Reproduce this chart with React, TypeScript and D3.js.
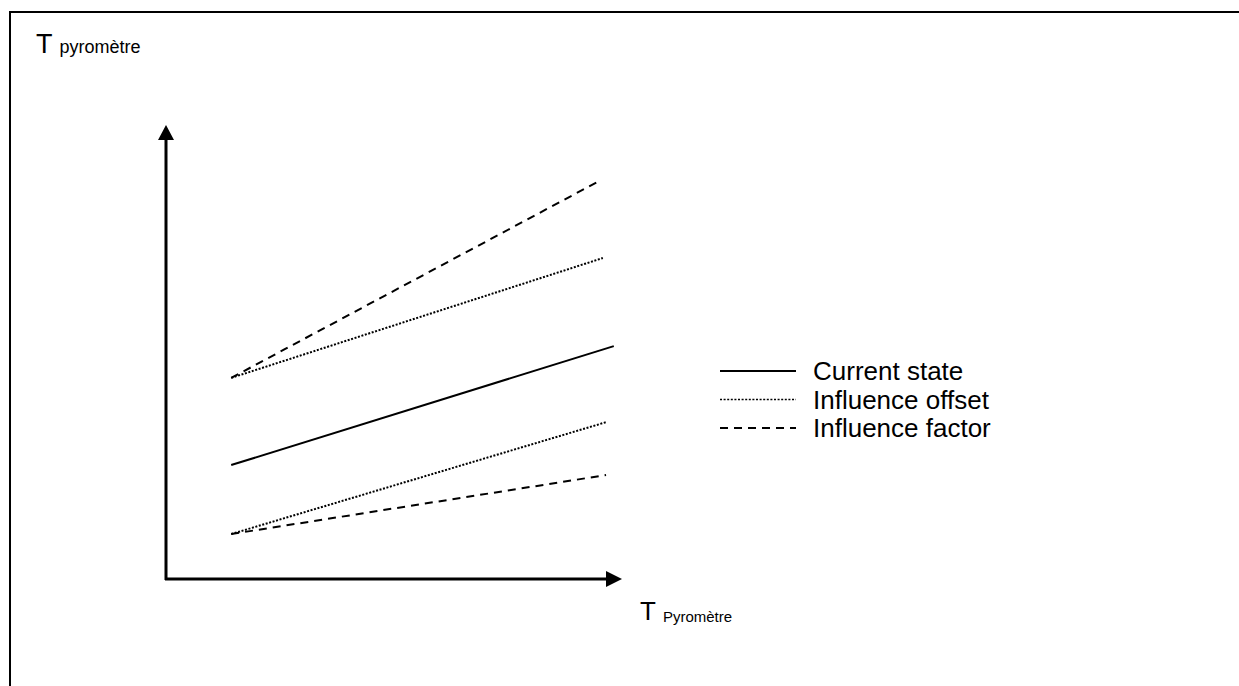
import React, { useEffect, useRef } from "react";
import * as d3 from "d3";

// Schematic chart: pyrometer temperature, current state vs influences
const SERIES_NAMES = ["Current state", "Influence offset", "Influence factor"];
const SERIES_STYLES = ["solid", "dotted", "dashed"] as const;

// x/y in arbitrary units (0..100 on both axes)
const CURRENT_X = [14.3, 98.2];
const CURRENT_Y = [25.1, 51.3];

const OFFSET_HIGH_X = [14.3, 95.8];
const OFFSET_HIGH_Y = [44.3, 70.7];
const OFFSET_LOW_X = [14.3, 96.7];
const OFFSET_LOW_Y = [9.9, 34.6];

const FACTOR_HIGH_X = [14.3, 94.5];
const FACTOR_HIGH_Y = [44.3, 87.4];
const FACTOR_LOW_X = [14.3, 96.5];
const FACTOR_LOW_Y = [9.9, 22.9];

const Y_LABEL = ["T", "pyromètre"];
const X_LABEL = ["T", "Pyromètre"];

const WIDTH = 1239;
const HEIGHT = 686;

const DASH: Record<string, string | null> = {
  solid: null,
  dotted: "2,1.6",
  dashed: "8,6",
};

export default function App() {
  const svgRef = useRef<SVGSVGElement>(null);

  useEffect(() => {
    if (!svgRef.current) return;
    const svg = d3.select(svgRef.current);
    svg.selectAll("*").remove();

    const font = "Liberation Sans, Arial, sans-serif";

    // outer frame (runs off the right and bottom edge)
    svg
      .append("rect")
      .attr("x", 10)
      .attr("y", 12)
      .attr("width", WIDTH + 20)
      .attr("height", HEIGHT + 20)
      .attr("fill", "none")
      .attr("stroke", "#000")
      .attr("stroke-width", 2);

    const x0 = 166;
    const y0 = 579;
    const xScale = d3.scaleLinear().domain([0, 100]).range([x0, 622]);
    const yScale = d3.scaleLinear().domain([0, 100]).range([y0, 125]);

    // axes with arrow heads
    svg
      .append("line")
      .attr("x1", xScale(0))
      .attr("x2", xScale(0))
      .attr("y1", yScale(0) + 1)
      .attr("y2", yScale(100) + 12)
      .attr("stroke", "#000")
      .attr("stroke-width", 3);
    svg
      .append("path")
      .attr(
        "d",
        `M${xScale(0)},${yScale(100)} L${xScale(0) - 8},${yScale(100) + 15} L${xScale(0) + 8},${yScale(100) + 15} Z`
      )
      .attr("fill", "#000");

    svg
      .append("line")
      .attr("x1", xScale(0) - 1)
      .attr("x2", xScale(100) - 12)
      .attr("y1", yScale(0))
      .attr("y2", yScale(0))
      .attr("stroke", "#000")
      .attr("stroke-width", 3);
    svg
      .append("path")
      .attr(
        "d",
        `M${xScale(100)},${yScale(0)} L${xScale(100) - 16},${yScale(0) - 8} L${xScale(100) - 16},${yScale(0) + 8} Z`
      )
      .attr("fill", "#000");

    const line = d3
      .line<[number, number]>()
      .x((d) => xScale(d[0]))
      .y((d) => yScale(d[1]));

    const drawSeries = (xs: number[], ys: number[], style: string) => {
      svg
        .append("path")
        .datum(xs.map((x, i) => [x, ys[i]] as [number, number]))
        .attr("fill", "none")
        .attr("stroke", "#000")
        .attr("stroke-width", 2)
        .attr("stroke-dasharray", DASH[style])
        .attr("d", line);
    };

    drawSeries(FACTOR_HIGH_X, FACTOR_HIGH_Y, "dashed");
    drawSeries(FACTOR_LOW_X, FACTOR_LOW_Y, "dashed");
    drawSeries(OFFSET_HIGH_X, OFFSET_HIGH_Y, "dotted");
    drawSeries(OFFSET_LOW_X, OFFSET_LOW_Y, "dotted");
    drawSeries(CURRENT_X, CURRENT_Y, "solid");

    // axis labels
    const yLab = svg
      .append("text")
      .attr("x", 36)
      .attr("y", 53)
      .attr("font-family", font)
      .attr("fill", "#000");
    yLab.append("tspan").attr("font-size", 27).text(Y_LABEL[0]);
    yLab.append("tspan").attr("dx", 7).attr("font-size", 18).text(Y_LABEL[1]);

    const xLab = svg
      .append("text")
      .attr("x", 640)
      .attr("y", 620)
      .attr("font-family", font)
      .attr("fill", "#000");
    xLab.append("tspan").attr("font-size", 26).text(X_LABEL[0]);
    xLab.append("tspan").attr("dx", 7).attr("dy", 2).attr("font-size", 15).text(X_LABEL[1]);

    // legend
    const legend = svg.append("g").attr("transform", "translate(720, 371)");
    SERIES_NAMES.forEach((name, i) => {
      const row = legend.append("g").attr("transform", `translate(0, ${i * 28.5})`);
      row
        .append("line")
        .attr("x1", 0)
        .attr("x2", 76)
        .attr("y1", 0)
        .attr("y2", 0)
        .attr("stroke", "#000")
        .attr("stroke-width", SERIES_STYLES[i] === "dotted" ? 1.5 : 2)
        .attr("stroke-dasharray", DASH[SERIES_STYLES[i]]);
      row
        .append("text")
        .attr("x", 93)
        .attr("y", 9)
        .attr("font-family", font)
        .attr("font-size", 26)
        .attr("fill", "#000")
        .text(name);
    });
  }, []);

  return (
    <svg
      ref={svgRef}
      width={WIDTH}
      height={HEIGHT}
      style={{ position: "absolute", left: 0, top: 0, background: "#fff" }}
    ></svg>
  );
}
